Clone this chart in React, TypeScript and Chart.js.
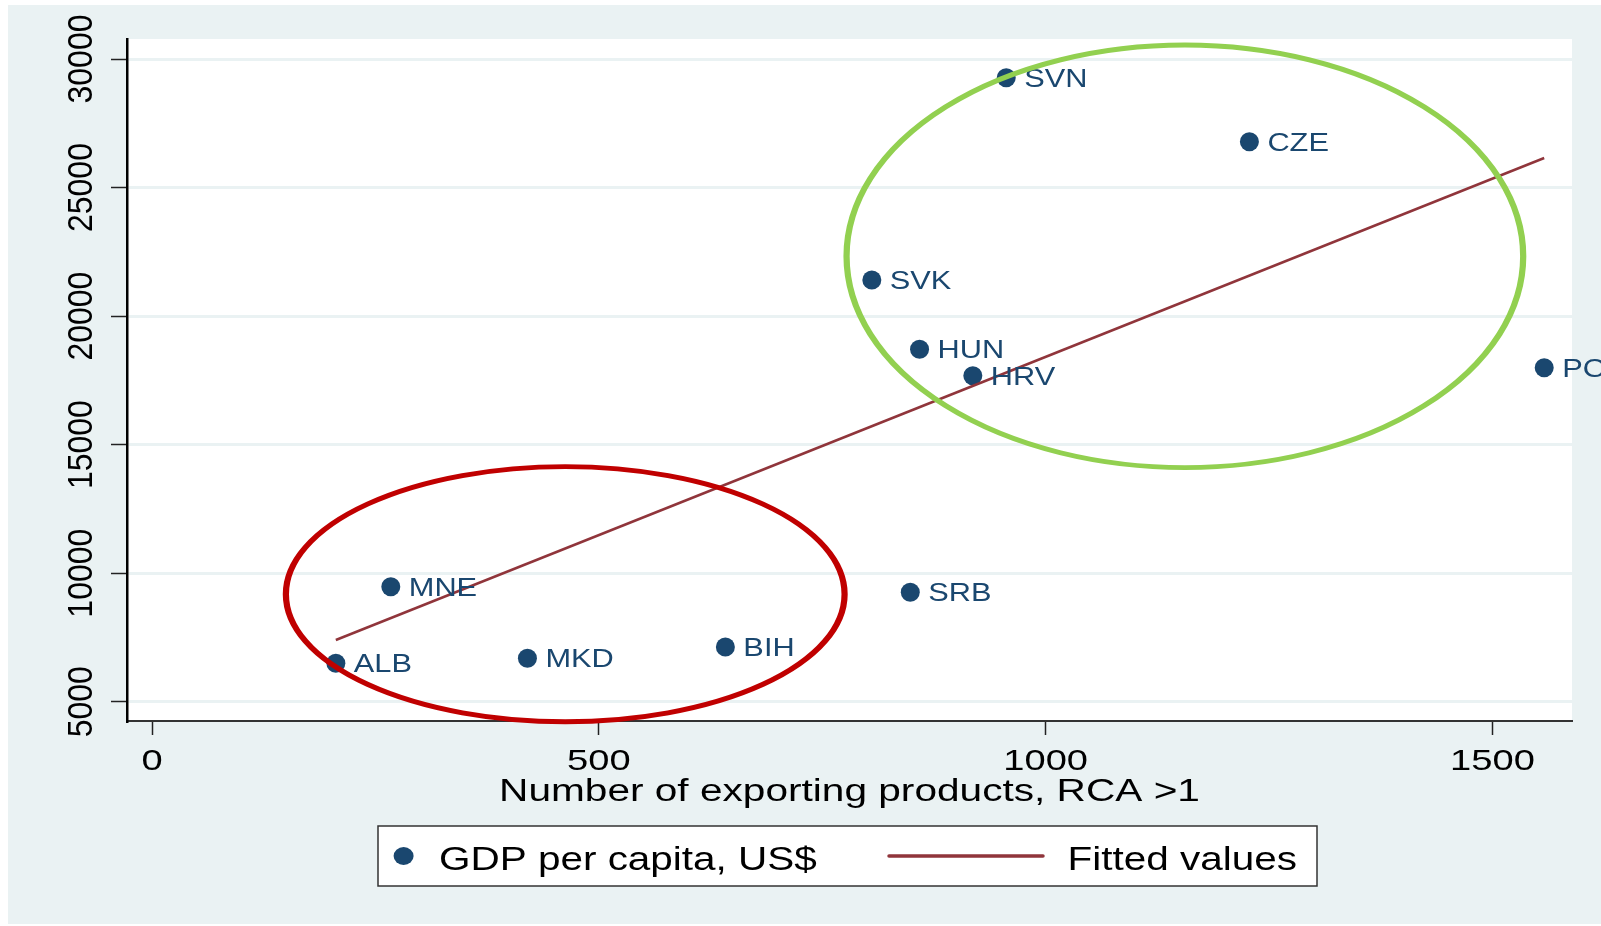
import React, { useEffect, useRef } from 'react';
import { Chart, registerables } from 'chart.js';

Chart.register(...registerables);

// ---------- data ----------
const countries = ['SVN', 'CZE', 'SVK', 'HUN', 'HRV', 'POL', 'SRB', 'MNE', 'ALB', 'MKD', 'BIH'];
const exportingProducts = [955.9, 1228.0, 805.5, 858.9, 918.5, 1557.9, 848.5, 267.2, 205.7, 420.1, 641.6];
const gdpPerCapita = [29272, 26783, 21403, 18708, 17681, 17992, 9255, 9473, 6494, 6688, 7128];

const fittedX = [205.7, 1557.9];
const fittedY = [7400, 26150];

const xTickValues = [0, 500, 1000, 1500];
const yTickValues = [5000, 10000, 15000, 20000, 25000, 30000];

const xTitle = 'Number of exporting products, RCA >1';
const seriesLabels = ['GDP per capita, US$', 'Fitted values'];

// highlight ellipses (data units)
const highlightCenterX = [462.4, 1155.8];
const highlightCenterY = [9182, 22325];
const highlightRadiusX = [312.6, 378.6];
const highlightRadiusY = [4963, 8219];
const highlightColors = ['#c00000', '#92d050'];

// ---------- styles ----------
const BG = '#eaf2f3';
const NAVY = '#1a476f';
const MAROON = '#90353b';
const FONT = '"Liberation Sans", Arial, Helvetica, sans-serif';

function stretchText(
  ctx: CanvasRenderingContext2D,
  text: string,
  x: number,
  baseline: number,
  size: number,
  sx: number,
  align: 'left' | 'center' | 'right',
  color: string
) {
  ctx.save();
  ctx.font = `${size}px ${FONT}`;
  ctx.fillStyle = color;
  ctx.textAlign = 'left';
  ctx.textBaseline = 'alphabetic';
  const w = ctx.measureText(text).width * sx;
  const left = align === 'center' ? x - w / 2 : align === 'right' ? x - w : x;
  ctx.translate(left, baseline);
  ctx.scale(sx, 1);
  ctx.fillText(text, 0, 0);
  ctx.restore();
}

const stataPlugin = {
  id: 'stataLook',
  beforeDraw(chart: any) {
    const { ctx, chartArea: a } = chart;
    ctx.save();
    ctx.fillStyle = '#ffffff';
    ctx.fillRect(0, 0, chart.width, chart.height);
    ctx.fillStyle = BG;
    ctx.fillRect(8, 5, chart.width - 8, 919);
    ctx.fillStyle = '#ffffff';
    ctx.fillRect(a.left, a.top, a.right - a.left, a.bottom - a.top);
    ctx.restore();
  },
  afterDraw(chart: any) {
    const { ctx, chartArea: a } = chart;
    const xs = chart.scales.x;
    const ys = chart.scales.y;

    // point labels
    const meta = chart.getDatasetMeta(0);
    const labelSize = 25;
    meta.data.forEach((el: any, i: number) => {
      stretchText(ctx, countries[i], el.x + 18, el.y + labelSize * 0.716 / 2, labelSize, 1.23, 'left', NAVY);
    });

    // y tick labels (rotated)
    ys.ticks.forEach((t: any) => {
      const py = ys.getPixelForValue(t.value);
      ctx.save();
      ctx.font = `32px ${FONT}`;
      ctx.fillStyle = '#000';
      ctx.textAlign = 'center';
      ctx.textBaseline = 'alphabetic';
      ctx.translate(a.left - 35.3, py);
      ctx.rotate(-Math.PI / 2);
      ctx.scale(1, 1.1);
      ctx.fillText(String(t.value), 0, 0);
      ctx.restore();
    });

    // x tick labels
    xs.ticks.forEach((t: any) => {
      const px = xs.getPixelForValue(t.value);
      stretchText(ctx, String(t.value), px, a.bottom + 49, 30, 1.27, 'center', '#000');
    });

    // x axis title
    stretchText(ctx, xTitle, (a.left + a.right) / 2, a.bottom + 80, 31, 1.31, 'center', '#000');

    // legend
    const boxW = 939;
    const boxH = 60;
    const bx = (a.left + a.right) / 2 - boxW / 2 - 2;
    const by = a.bottom + 105;
    ctx.save();
    ctx.fillStyle = '#ffffff';
    ctx.fillRect(bx, by, boxW, boxH);
    ctx.strokeStyle = '#333';
    ctx.lineWidth = 1.5;
    ctx.strokeRect(bx, by, boxW, boxH);
    const ds0 = chart.data.datasets[0];
    const ds1 = chart.data.datasets[1];
    ctx.fillStyle = ds0.backgroundColor;
    ctx.beginPath();
    ctx.ellipse(bx + 25.6, by + 30, 10, 9, 0, 0, Math.PI * 2);
    ctx.fill();
    ctx.strokeStyle = ds1.borderColor;
    ctx.lineWidth = 3.5;
    ctx.lineCap = 'round';
    ctx.beginPath();
    ctx.moveTo(bx + 511, by + 30);
    ctx.lineTo(bx + 665, by + 30);
    ctx.stroke();
    ctx.restore();
    stretchText(ctx, ds0.label, bx + 61, by + 43.5, 34, 1.19, 'left', '#000');
    stretchText(ctx, ds1.label, bx + 689.5, by + 43.5, 34, 1.19, 'left', '#000');

    // highlight ellipses
    highlightCenterX.forEach((cx, i) => {
      const cxp = xs.getPixelForValue(cx);
      const cyp = ys.getPixelForValue(highlightCenterY[i]);
      const rxp = Math.abs(xs.getPixelForValue(cx + highlightRadiusX[i]) - cxp);
      const ryp = Math.abs(ys.getPixelForValue(highlightCenterY[i] + highlightRadiusY[i]) - cyp);
      const S = 1.3;
      ctx.save();
      ctx.translate(cxp, cyp);
      ctx.scale(S, 1);
      ctx.strokeStyle = highlightColors[i];
      ctx.lineWidth = 4.8;
      ctx.beginPath();
      ctx.ellipse(0, 0, rxp / S, ryp, 0, 0, Math.PI * 2);
      ctx.stroke();
      ctx.restore();
    });
  },
};

export default function App() {
  const canvasRef = useRef<HTMLCanvasElement | null>(null);

  useEffect(() => {
    const canvas = canvasRef.current;
    if (!canvas) return;
    const chart = new Chart(canvas, {
      type: 'scatter',
      data: {
        datasets: [
          {
            label: seriesLabels[0],
            data: exportingProducts.map((x, i) => ({ x, y: gdpPerCapita[i] })),
            backgroundColor: NAVY,
            borderColor: NAVY,
            borderWidth: 0,
            pointRadius: 9.5,
            order: 2,
          },
          {
            label: seriesLabels[1],
            data: fittedX.map((x, i) => ({ x, y: fittedY[i] })),
            showLine: true,
            borderColor: MAROON,
            backgroundColor: MAROON,
            borderWidth: 2.5,
            pointRadius: 0,
            order: 1,
          },
        ],
      },
      options: {
        responsive: false,
        animation: false,
        devicePixelRatio: 1,
        events: [],
        layout: { padding: { left: 127, top: 39, right: 29, bottom: 205 } },
        plugins: {
          legend: { display: false },
          tooltip: { enabled: false },
          title: { display: false },
        },
        scales: {
          x: {
            type: 'linear',
            min: -28,
            max: 1589,
            afterBuildTicks: (s: any) => {
              s.ticks = xTickValues.map((v) => ({ value: v }));
            },
            afterFit: (s: any) => {
              s.height = 0;
            },
            ticks: { display: false },
            grid: {
              display: true,
              drawOnChartArea: false,
              drawTicks: true,
              tickLength: 14,
              tickWidth: 1.5,
              tickColor: '#222',
              color: 'rgba(0,0,0,0)',
            },
            border: { display: true, color: '#333', width: 2 },
          },
          y: {
            type: 'linear',
            min: 4249,
            max: 30778,
            afterBuildTicks: (s: any) => {
              s.ticks = yTickValues.map((v) => ({ value: v }));
            },
            afterFit: (s: any) => {
              s.width = 0;
            },
            ticks: { display: false },
            grid: {
              display: true,
              drawOnChartArea: true,
              drawTicks: true,
              tickLength: 16,
              tickWidth: 1.5,
              tickColor: '#222',
              color: BG,
              lineWidth: 3,
            },
            border: { display: true, color: '#000', width: 2.5 },
          },
        },
      },
      plugins: [stataPlugin],
    } as any);
    return () => chart.destroy();
  }, []);

  return (
    <div style={{ position: 'absolute', left: 0, top: 0, width: 1601, height: 926 }}>
      <canvas ref={canvasRef} width={1601} height={926} style={{ display: 'block' }} />
    </div>
  );
}
